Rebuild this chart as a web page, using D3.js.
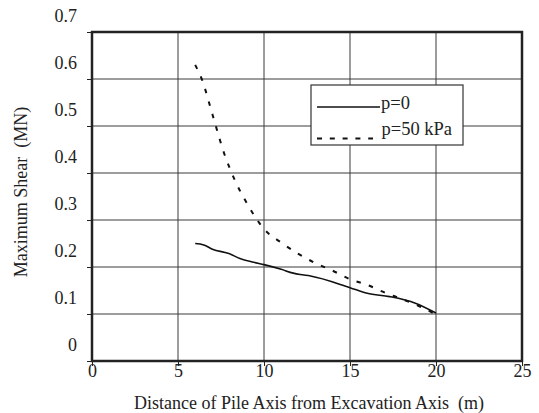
<!DOCTYPE html>
<html>
<head>
<meta charset="utf-8">
<script src="https://cdn.jsdelivr.net/npm/d3@7"></script>
<style>
  html, body { margin: 0; padding: 0; background: #fff; }
  svg { display: block; }
  text { font-family: "Liberation Serif", "Times New Roman", serif; fill: #222; }
</style>
</head>
<body>
<script>
// ---- data ----
const xTicks = [0, 5, 10, 15, 20, 25];
const yTicks = [0, 0.1, 0.2, 0.3, 0.4, 0.5, 0.6, 0.7];

const p0X = [6, 6.5, 7, 8, 8.6, 9.4, 10, 11, 11.7, 12.1, 12.7, 15, 16, 17.3, 18.8, 20];
const p0Y = [0.250, 0.247, 0.238, 0.228, 0.218, 0.210, 0.205, 0.195, 0.187, 0.184, 0.181, 0.156, 0.144, 0.137, 0.123, 0.102];

const p50X = [6, 6.4, 7, 7.7, 8.3, 9, 10, 11, 12, 13, 14, 15, 16, 17, 18, 19, 20];
const p50Y = [0.630, 0.598, 0.525, 0.440, 0.385, 0.336, 0.281, 0.252, 0.228, 0.208, 0.192, 0.174, 0.162, 0.146, 0.132, 0.117, 0.099];

const seriesNames = ["p=0", "p=50 kPa"];
const xLabel = "Distance of Pile Axis from Excavation Axis  (m)";
const yLabel = "Maximum Shear  (MN)";

// ---- layout ----
const W = 539, H = 413;
const m = { left: 92, top: 32, right: 539 - 522, bottom: 413 - 361 };
const svg = d3.select("body").append("svg").attr("width", W).attr("height", H);

const x = d3.scaleLinear().domain([0, 25]).range([m.left, W - m.right]);
const y = d3.scaleLinear().domain([0, 0.7]).range([H - m.bottom, m.top]);

// gridlines
svg.append("g").selectAll("line.gy").data(yTicks).join("line")
  .attr("x1", x(0)).attr("x2", x(25))
  .attr("y1", d => y(d)).attr("y2", d => y(d))
  .attr("stroke", "#3a3a3a").attr("stroke-width", 1);
svg.append("g").selectAll("line.gx").data(xTicks).join("line")
  .attr("y1", y(0)).attr("y2", y(0.7))
  .attr("x1", d => x(d)).attr("x2", d => x(d))
  .attr("stroke", "#3a3a3a").attr("stroke-width", 1);

// axes
const yAxis = svg.append("g").attr("transform", `translate(${m.left},0)`)
  .call(d3.axisLeft(y).tickValues(yTicks).tickSize(5).tickPadding(10)
    .tickFormat(d => d === 0 ? "0" : d.toFixed(1)));
yAxis.select(".domain").remove();
yAxis.selectAll("line").attr("stroke", "#222");
yAxis.selectAll("text").attr("dy", -10.5).style("font-size", "18px")
  .attr("font-family", null).attr("fill", "#222");

const xAxis = svg.append("g").attr("transform", `translate(0,${H - m.bottom})`)
  .call(d3.axisBottom(x).tickValues(xTicks).tickSize(5).tickFormat(d3.format("d")));
xAxis.select(".domain").remove();
xAxis.selectAll("line").attr("stroke", "#222");
xAxis.selectAll("text").attr("y", 16).attr("dy", 0).style("font-size", "18px")
  .attr("font-family", null).attr("fill", "#222");

// frame
svg.append("rect")
  .attr("x", x(0)).attr("y", y(0.7))
  .attr("width", x(25) - x(0)).attr("height", y(0) - y(0.7))
  .attr("fill", "none").attr("stroke", "#222").attr("stroke-width", 2.5);

// lines
const line = d3.line().x(d => x(d[0])).y(d => y(d[1])).curve(d3.curveMonotoneX);
const s0 = p0X.map((v, i) => [v, p0Y[i]]);
const s50 = p50X.map((v, i) => [v, p50Y[i]]);

svg.append("path").datum(s0).attr("d", line)
  .attr("fill", "none").attr("stroke", "#111").attr("stroke-width", 1.6);
svg.append("path").datum(s50).attr("d", line)
  .attr("fill", "none").attr("stroke", "#111").attr("stroke-width", 2)
  .attr("stroke-dasharray", "4.5,8.5");

// legend
const lg = svg.append("g");
lg.append("rect").attr("x", 311).attr("y", 85).attr("width", 152).attr("height", 60)
  .attr("fill", "#fff").attr("stroke", "#333").attr("stroke-width", 1.2);
lg.append("line").attr("x1", 317).attr("x2", 380).attr("y1", 107).attr("y2", 107)
  .attr("stroke", "#111").attr("stroke-width", 1.6);
lg.append("line").attr("x1", 317).attr("x2", 373).attr("y1", 138.5).attr("y2", 138.5)
  .attr("stroke", "#111").attr("stroke-width", 2).attr("stroke-dasharray", "5,7.8");
lg.append("text").attr("x", 381).attr("y", 109).style("font-size", "18.5px").text(seriesNames[0]);
lg.append("text").attr("x", 381.5).attr("y", 135).style("font-size", "18.5px").text(seriesNames[1]);

// axis titles
svg.append("text").attr("x", 309).attr("y", 409).attr("text-anchor", "middle")
  .style("font-size", "18px").style("white-space", "pre").text(xLabel);
svg.append("text").attr("transform", `translate(27,192) rotate(-90)`).attr("text-anchor", "middle")
  .style("font-size", "18px").style("white-space", "pre").text(yLabel);
</script>
</body>
</html>
